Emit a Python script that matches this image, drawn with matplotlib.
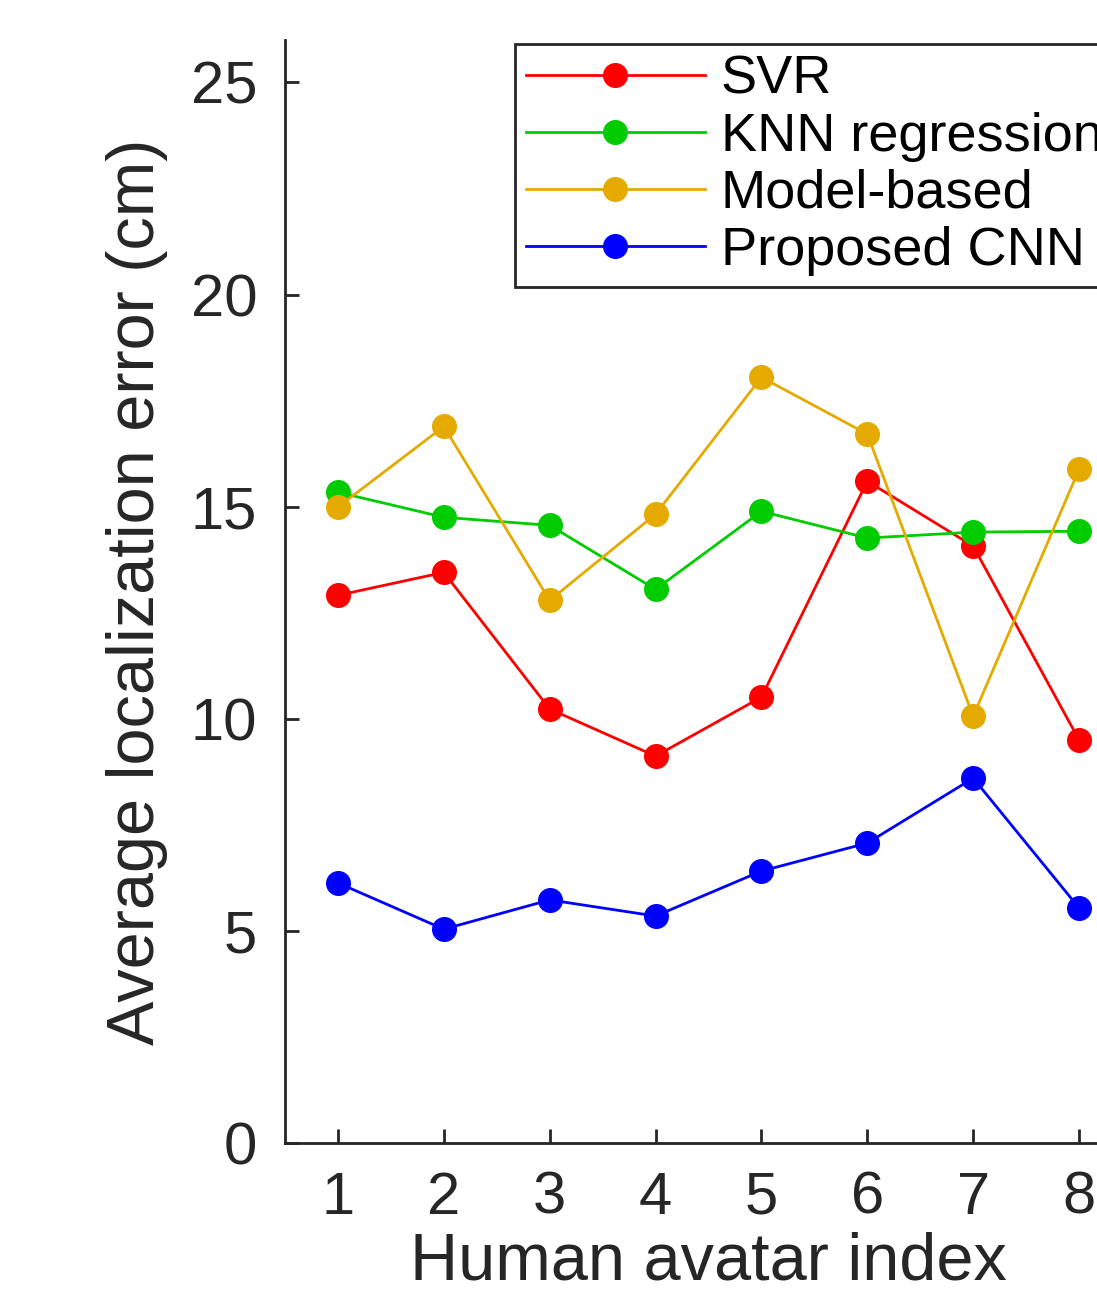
import matplotlib
matplotlib.use("Agg")
import matplotlib.pyplot as plt

plt.rcParams['font.family'] = ['Liberation Sans', 'DejaVu Sans']

avatar = [1, 2, 3, 4, 5, 6, 7, 8]
svr = [12.91, 13.45, 10.23, 9.12, 10.51, 15.60, 14.07, 9.50]
knn = [15.34, 14.75, 14.56, 13.05, 14.89, 14.26, 14.40, 14.42]
model_based = [14.99, 16.89, 12.79, 14.82, 18.05, 16.71, 10.06, 15.88]
cnn = [6.13, 5.04, 5.73, 5.35, 6.41, 7.07, 8.60, 5.54]

names = ["SVR", "KNN regression", "Model-based", "Proposed CNN"]
colors = ["#ff0000", "#00cc00", "#e5aa00", "#0000ff"]
dark = "#262626"

fig = plt.figure(figsize=(10.97, 12.99), dpi=100)
ax = fig.add_axes([285/1097, 156/1299, 847/1097, 1103/1299])

for vals, name, c in zip([svr, knn, model_based, cnn], names, colors):
    ax.plot(avatar, vals, color=c, lw=2.0, marker='o', markersize=17, label=name)

ax.set_xlim(0.5, 8.5)
ax.set_ylim(0, 26)
ax.set_xticks(avatar)
ax.set_yticks([0, 5, 10, 15, 20, 25])

# matlab style: box off, ticks inside
ax.spines['top'].set_visible(False)
ax.spines['right'].set_visible(False)
for s in ['left', 'bottom']:
    ax.spines[s].set_color(dark)
    ax.spines[s].set_linewidth(2)
ax.tick_params(direction='in', length=10, width=2, color=dark,
               labelsize=43, labelcolor=dark)
ax.tick_params(axis='y', pad=20)
ax.tick_params(axis='x', pad=20)

ax.set_xlabel("Human avatar index", fontsize=48, color=dark, labelpad=4)
ax.set_ylabel("Average localization error (cm)", fontsize=48, color=dark, labelpad=16)

# legend runs off the right edge like in the original figure
leg = ax.legend(loc='upper left', bbox_to_anchor=(515/1097, 1 - 44/1299),
                bbox_transform=fig.transFigure, borderaxespad=0,
                fontsize=39, handlelength=3.3, handletextpad=0.3,
                labelspacing=0.13, borderpad=0.2, fancybox=False,
                framealpha=1, edgecolor=dark)
leg.get_frame().set_linewidth(2)
for t in leg.get_texts():
    t.set_color('black')

fig.savefig("out.png", dpi=100)
